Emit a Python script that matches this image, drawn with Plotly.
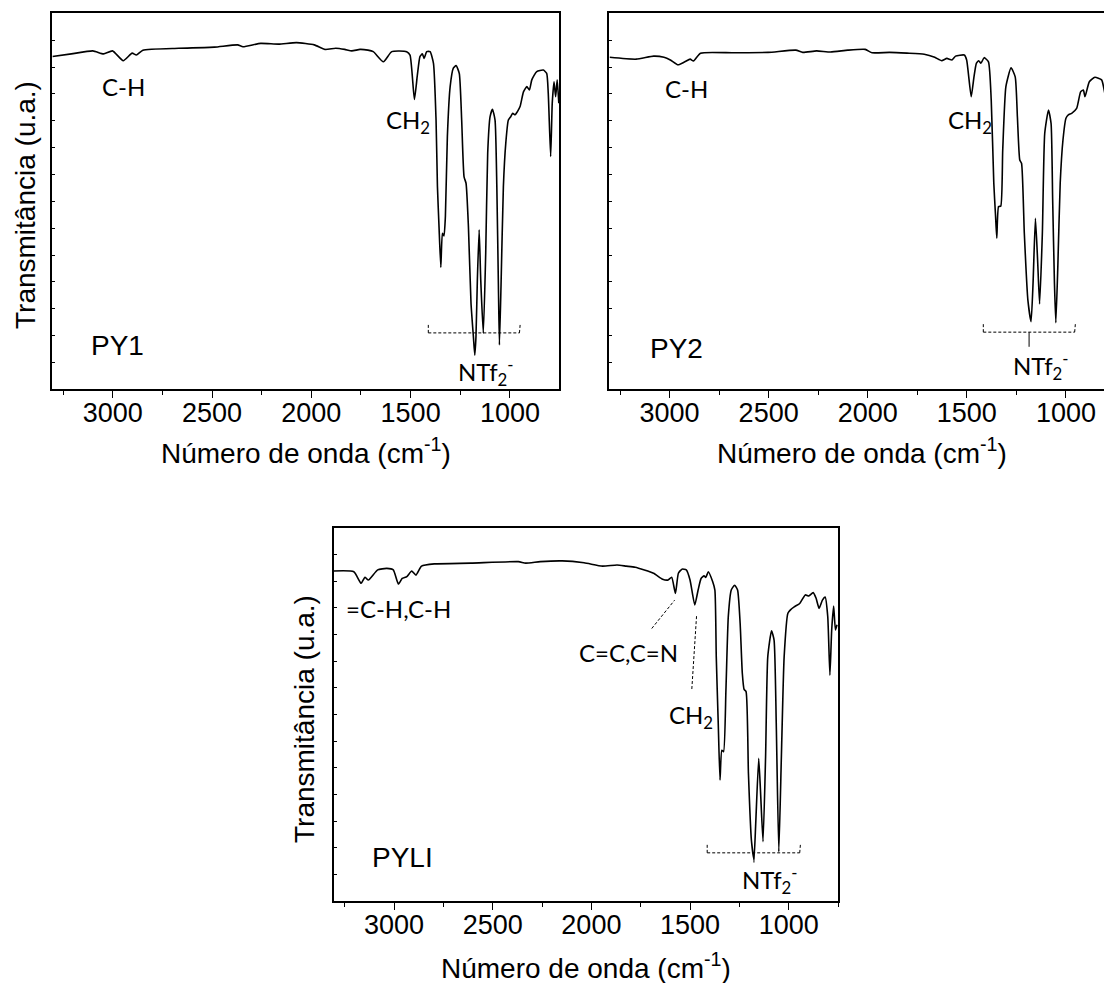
import plotly.graph_objects as go

W, H = 1104, 983

# ---------------- data (wavenumber cm-1, transmittance a.u. 0-100) ----------------
py1_wn = [3303, 3208, 3100, 3046, 3001, 2947, 2902, 2881, 2848, 2668, 2488, 2371, 2344, 2255,
          2165, 2075, 1985, 1931, 1877, 1832, 1796, 1755, 1715, 1688, 1637, 1595, 1520, 1503,
          1481, 1466, 1453, 1441, 1432, 1419, 1402, 1385, 1372, 1365, 1357, 1348, 1340, 1332,
          1325, 1315, 1301, 1285, 1271, 1255, 1243, 1231, 1221, 1209, 1196, 1184, 1177, 1171,
          1164, 1155, 1147, 1134, 1122, 1112, 1100, 1088, 1075, 1066, 1058, 1053, 1045, 1033,
          1021, 1008, 996, 986, 974, 963, 949, 932, 915, 902, 890, 865, 832, 815, 807, 795,
          787, 778, 770, 762, 754]
py1_t = [88.5, 89.2, 90.0, 89.2, 90.0, 87.4, 89.4, 88.9, 90.2, 90.7, 91.0, 91.6, 91.1, 92.0,
         91.8, 92.2, 91.6, 90.4, 90.7, 90.4, 90.0, 90.4, 90.2, 89.8, 87.1, 89.8, 89.8, 88.9,
         77.1, 83.6, 88.5, 89.2, 88.0, 89.8, 89.8, 86.7, 71.6, 53.9, 43.2, 32.4, 41.5, 40.8,
         45.9, 67.2, 80.5, 85.4, 86.1, 84.0, 71.6, 56.5, 54.8, 43.2, 22.9, 14.0, 9.1, 14.0,
         29.1, 42.4, 29.1, 14.9, 36.2, 62.8, 72.5, 74.5, 71.6, 53.9, 27.3, 11.8, 27.3, 53.9,
         65.4, 71.6, 72.5, 73.4, 73.0, 73.8, 75.2, 79.1, 80.5, 79.6, 82.3, 84.5, 84.9, 84.0,
         78.7, 61.9, 76.1, 81.8, 77.8, 82.3, 76.1]

py2_wn = [3302, 3169, 3080, 3028, 2996, 2957, 2923, 2896, 2879, 2844, 2678, 2503, 2363, 2328,
          2258, 2188, 2100, 2013, 1978, 1890, 1802, 1715, 1662, 1627, 1601, 1575, 1557, 1513,
          1501, 1478, 1464, 1452, 1440, 1429, 1413, 1391, 1377, 1364, 1355, 1349, 1340, 1329,
          1319, 1303, 1277, 1256, 1245, 1233, 1224, 1210, 1192, 1176, 1166, 1154, 1143, 1133,
          1119, 1107, 1088, 1075, 1067, 1058, 1051, 1041, 1029, 1015, 1000, 988, 971, 946,
          926, 912, 904, 882, 854, 820, 807, 795]
py2_t = [88.3, 87.8, 88.6, 88.3, 87.6, 86.3, 87.1, 87.8, 87.3, 89.4, 89.5, 89.6, 90.2, 89.6,
         90.0, 89.7, 90.2, 90.4, 89.5, 89.6, 89.4, 89.1, 88.3, 87.4, 88.0, 87.6, 88.6, 88.9,
         87.6, 77.8, 83.1, 86.7, 87.4, 86.7, 88.2, 87.1, 76.9, 54.8, 45.9, 40.2, 48.6, 48.7,
         63.6, 80.5, 85.5, 83.1, 72.5, 61.0, 60.1, 41.5, 23.7, 18.0, 28.2, 45.5, 34.4, 22.7,
         41.5, 68.1, 74.3, 70.7, 50.3, 28.2, 17.7, 32.6, 54.8, 66.3, 72.1, 73.0, 73.4, 74.7,
         79.1, 79.6, 77.8, 81.8, 83.0, 82.3, 79.6, 76.0]

pyli_wn = [3306, 3204, 3167, 3148, 3130, 3083, 3037, 3004, 2978, 2959, 2935, 2911, 2889, 2861,
           2796, 2611, 2370, 2333, 2259, 2148, 2037, 1944, 1870, 1824, 1778, 1685, 1639, 1611,
           1593, 1574, 1559, 1541, 1519, 1500, 1476, 1459, 1444, 1429, 1420, 1407, 1385, 1374,
           1367, 1357, 1348, 1339, 1330, 1318, 1306, 1291, 1274, 1259, 1246, 1235, 1226, 1216,
           1204, 1189, 1176, 1167, 1152, 1143, 1130, 1117, 1106, 1087, 1074, 1063, 1050, 1037,
           1023, 1004, 991, 972, 944, 916, 898, 876, 861, 846, 829, 815, 802, 791, 782, 772,
           763, 755]
pyli_t = [88.4, 88.2, 85.1, 86.7, 86.0, 88.7, 89.1, 88.7, 84.9, 86.4, 86.9, 88.4, 87.3, 89.7,
          90.3, 90.5, 90.9, 90.5, 90.9, 91.1, 90.6, 89.7, 90.0, 89.7, 89.4, 87.8, 86.2, 86.0,
          86.7, 82.4, 87.8, 88.9, 88.7, 86.0, 79.3, 83.3, 86.4, 87.1, 86.7, 88.2, 85.5, 83.3,
          65.4, 47.6, 32.4, 40.4, 40.0, 56.5, 76.2, 83.3, 84.6, 83.3, 74.4, 61.0, 56.7, 56.1,
          34.2, 16.3, 11.2, 20.8, 38.2, 29.7, 15.9, 38.7, 65.4, 72.4, 69.9, 47.6, 13.2, 38.7,
          65.4, 77.1, 78.0, 78.8, 79.7, 82.0, 81.7, 82.6, 81.1, 78.4, 80.6, 81.4, 76.2, 60.5,
          72.6, 79.0, 72.6, 74.0]

x_ticks = [3000, 2500, 2000, 1500, 1000]
x_tick_text = ["3000", "2500", "2000", "1500", "1000"]
panel_names = ["PY1", "PY2", "PYLI"]

# ---------------- layout helpers ----------------
def px(x, y):
    return x / W, 1 - y / H

boxes = {  # left, right, top, bottom in pixels
    1: (52.3, 559.0, 13.3, 389.3),
    2: (609.3, 1104.0, 13.3, 389.3),
    3: (333.9, 838.0, 527.7, 901.0),
}
xranges = {1: [3304, 753], 2: [3304, 808], 3: [3305, 750]}

fig = go.Figure()
series = [(py1_wn, py1_t), (py2_wn, py2_t), (pyli_wn, pyli_t)]
for i, (wn, t) in enumerate(series, start=1):
    fig.add_trace(go.Scatter(
        x=wn, y=t, mode="lines", xaxis=f"x{i}", yaxis=f"y{i}",
        line=dict(color="black", width=1.6, shape="spline", smoothing=0.5),
        showlegend=False, hoverinfo="skip"))

tickfont = dict(family="Liberation Sans, Arial, sans-serif", size=27, color="black")
layout = dict(width=W, height=H, margin=dict(l=0, r=0, t=0, b=0),
              paper_bgcolor="white", plot_bgcolor="white", showlegend=False)
for i in (1, 2, 3):
    l, r, t, b = boxes[i]
    xs = "" if i == 1 else str(i)
    layout[f"xaxis{xs}"] = dict(
        domain=[l / W, r / W], range=xranges[i], anchor=f"y{i}",
        showline=True, linecolor="black", linewidth=1.5, mirror=True,
        ticks="outside", ticklen=7, tickwidth=1.3, tickcolor="black",
        tickvals=x_ticks, ticktext=x_tick_text, tickfont=tickfont,
        ticklabelstandoff=-8,
        minor=dict(dtick=250, tick0=0, ticks="outside", ticklen=4, tickwidth=1.2,
                   tickcolor="black"),
        showgrid=False, zeroline=False, fixedrange=True)
    layout[f"yaxis{xs}"] = dict(
        domain=[1 - b / H, 1 - t / H], range=[0, 100], anchor=f"x{i}",
        showline=True, linecolor="black", linewidth=1.5, mirror=(i != 2),
        ticks="inside", ticklen=3, tickwidth=1, tickcolor="black",
        dtick=100 / 14, tick0=0, showticklabels=False,
        showgrid=False, zeroline=False, fixedrange=True)
fig.update_layout(**layout)

titlefont = dict(family="Liberation Sans, Arial, sans-serif", size=28, color="black")
labfont = dict(family="Lato, Open Sans, sans-serif", size=24, color="black")

annots = []
def add_text(text, x, y, font, angle=0):
    xp, yp = px(x, y)
    annots.append(dict(text=text, x=xp, y=yp, xref="paper", yref="paper",
                       xanchor="center", yanchor="middle", showarrow=False,
                       font=font, textangle=angle))

# axis titles
add_text("Número de onda (cm<sup>-1</sup>)", 305.7, 451, titlefont)
add_text("Número de onda (cm<sup>-1</sup>)", 862, 451, titlefont)
add_text("Número de onda (cm<sup>-1</sup>)", 586, 966, titlefont)
add_text("Transmitância (u.a.)", 26, 205, titlefont, -90)
add_text("Transmitância (u.a.)", 304, 719, titlefont, -90)

# panel names
add_text(panel_names[0], 117, 345, titlefont)
add_text(panel_names[1], 676, 348, titlefont)
add_text(panel_names[2], 402, 857, titlefont)

# band labels
add_text("C-H", 123, 87, labfont)
add_text("CH<sub>2</sub>", 408, 122, labfont)
add_text("NTf<sub>2</sub><sup>-</sup>", 486, 372, labfont)
add_text("C-H", 686, 89, labfont)
add_text("CH<sub>2</sub>", 970, 121, labfont)
add_text("NTf<sub>2</sub><sup>-</sup>", 1041, 366, labfont)
add_text("=C-H,C-H", 398, 608, labfont)
add_text("C=C,C=N", 628, 652, labfont)
add_text("CH<sub>2</sub>", 691, 716, labfont)
add_text("NTf<sub>2</sub><sup>-</sup>", 770, 880, labfont)
fig.update_layout(annotations=annots)

# brackets and leader lines (data coordinates)
dash = dict(color="black", width=1, dash="3px,2px")
shapes = []
def seg(i, x0, y0, x1, y1, d=dash):
    xs = "x" if i == 1 else f"x{i}"
    ys = "y" if i == 1 else f"y{i}"
    shapes.append(dict(type="line", xref=xs, yref=ys, x0=x0, y0=y0, x1=x1, y1=y1, line=d))

solid = dict(color="black", width=1)
# panel 1 bracket
seg(1, 1411, 15.0, 952, 15.0)
seg(1, 1411, 15.0, 1411, 17.6)
seg(1, 952, 15.0, 948, 17.6)
# panel 2 bracket
seg(2, 1417, 15.2, 956, 15.2)
seg(2, 1417, 15.2, 1417, 17.7)
seg(2, 956, 15.2, 952, 17.7)
seg(2, 1186, 15.2, 1186, 11.3, solid)
# panel 3 bracket
seg(3, 1413, 12.9, 944, 12.9)
seg(3, 1413, 12.9, 1413, 15.5)
seg(3, 944, 12.9, 940, 15.5)
seg(3, 1176, 12.9, 1176, 10.3, solid)
# panel 3 leader lines
seg(3, 1694, 73.0, 1578, 80.6)
seg(3, 1467, 76.3, 1491, 56.7)
fig.update_layout(shapes=shapes)

fig.write_html("out.html", config={"displayModeBar": False},
               post_script="document.body.style.margin='0';")
